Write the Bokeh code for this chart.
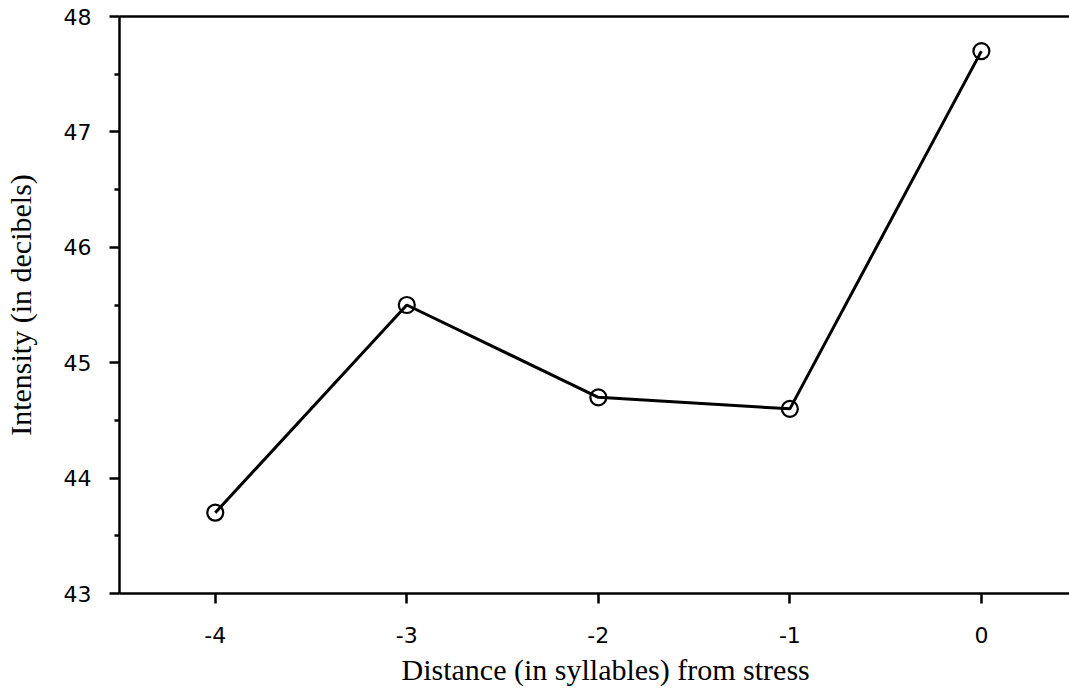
from bokeh.plotting import figure
from bokeh.models import FixedTicker, LinearAxis, Range1d, Title
from bokeh.embed import file_html
from bokeh.resources import INLINE

distance = [-4, -3, -2, -1, 0]
intensity = [43.7, 45.5, 44.7, 44.6, 47.7]
x_ticks = [-4, -3, -2, -1, 0]
x_tick_labels = ["-4", "-3", "-2", "-1", "0"]
y_ticks = [43, 44, 45, 46, 47, 48]
y_minor = [43.5, 44.5, 45.5, 46.5, 47.5]

p = figure(width=1069, height=696, output_backend="svg", toolbar_location=None,
           x_range=Range1d(-4.5, 0.46), y_range=Range1d(43, 48),
           min_border_left=117, min_border_right=0, min_border_top=16, min_border_bottom=103)
p.outline_line_color = None
p.grid.grid_line_color = None
p.background_fill_color = "white"
p.border_fill_color = "white"

p.line(distance, intensity, line_color="black", line_width=3)
p.scatter(distance, intensity, marker="circle", size=16, fill_color=None,
          line_color="black", line_width=2.2)

for ax in (p.xaxis[0], p.yaxis[0]):
    ax.axis_line_width = 2.5
    ax.axis_line_color = "black"
    ax.major_tick_line_width = 2.5
    ax.minor_tick_line_width = 2.5
    ax.major_tick_in = 0
    ax.major_tick_out = 10
    ax.minor_tick_in = 0
    ax.minor_tick_out = 5
    ax.major_label_text_font = "DejaVu Sans"
    ax.major_label_text_font_size = "22px"
    ax.major_label_text_color = "black"
    ax.axis_label_text_font = "Liberation Serif"
    ax.axis_label_text_font_size = "30px"
    ax.axis_label_text_font_style = "normal"
    ax.axis_label_text_color = "black"

p.xaxis[0].ticker = FixedTicker(ticks=x_ticks)
p.xaxis[0].major_label_overrides = {t: s for t, s in zip(x_ticks, x_tick_labels)}
p.xaxis[0].minor_tick_out = 0
p.xaxis[0].major_label_standoff = 23

p.yaxis[0].ticker = FixedTicker(ticks=y_ticks, minor_ticks=y_minor)
p.yaxis[0].major_label_standoff = 18
p.yaxis[0].axis_label = "Intensity (in decibels)"
p.yaxis[0].axis_label_standoff = 24

xlabel = Title(text="Distance (in syllables) from stress", align="left", offset=282,
               vertical_align="bottom",
               text_font="Liberation Serif", text_font_size="30px",
               text_font_style="normal", text_color="black", standoff=10)
p.add_layout(xlabel, "below")

top = LinearAxis(ticker=FixedTicker(ticks=[]), major_tick_line_color=None,
                 minor_tick_line_color=None, axis_line_width=2.5, axis_line_color="black")
p.add_layout(top, "above")

open("out.html", "w").write(file_html(p, INLINE))
